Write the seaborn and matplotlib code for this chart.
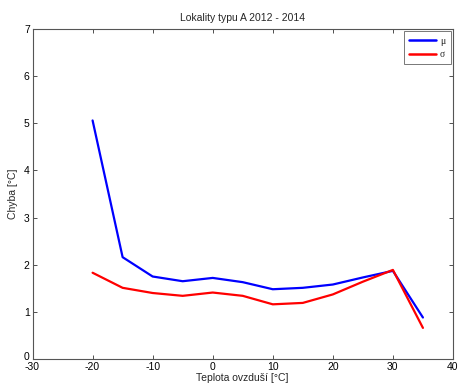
import numpy as np
import pandas as pd
import matplotlib
matplotlib.use("Agg")
import matplotlib.pyplot as plt
import matplotlib.transforms as mtransforms
import seaborn as sns

# Air temperature bins [°C]
teplota = [-20, -15, -10, -5, 0, 5, 10, 15, 20, 25, 30, 35]
# Mean error (mu) and standard deviation (sigma) per bin [°C]
mu = [5.06, 2.16, 1.75, 1.65, 1.72, 1.63, 1.48, 1.51, 1.58, 1.73, 1.87, 0.88]
sigma = [1.83, 1.51, 1.40, 1.34, 1.41, 1.34, 1.16, 1.19, 1.37, 1.64, 1.89, 0.66]
labels = ["\u03bc", "\u03c3"]

title = "Lokality typu A 2012 - 2014"
xlabel = "Teplota ovzduší [°C]"
ylabel = "Chyba [°C]"
xticks = [-30, -20, -10, 0, 10, 20, 30, 40]
yticks = [0, 1, 2, 3, 4, 5, 6, 7]

df = pd.DataFrame({
    "teplota": teplota * 2,
    "chyba": mu + sigma,
    "stat": [labels[0]] * len(mu) + [labels[1]] * len(sigma),
})

sns.set_style("white")
plt.rcParams["font.family"] = ["Liberation Sans", "DejaVu Sans"]
plt.rcParams["font.size"] = 7.5
plt.rcParams["axes.unicode_minus"] = False

fig = plt.figure(figsize=(4.6, 3.85), dpi=100)
ax = fig.add_axes([0.0707, 0.0675, 0.9140, 0.8572])

sns.lineplot(data=df, x="teplota", y="chyba", hue="stat",
             palette={labels[0]: "#0000ff", labels[1]: "#ff0000"},
             linewidth=1.6, ax=ax, legend=True)

ax.set_xlim(-30, 40)
ax.set_ylim(0, 7)
ax.set_xticks(xticks)
ax.set_yticks(yticks)
ax.tick_params(direction="in", length=3, width=0.6, colors="#333333",
               labelcolor="black", labelsize=7.5, top=True, right=True,
               bottom=True, left=True, pad=2)
for sp in ax.spines.values():
    sp.set_visible(True)
    sp.set_color("#555555")
    sp.set_linewidth(0.8)

# lift the lowest y tick label slightly so it clears the -30 below it
lbl0 = ax.get_yticklabels()[0]
lbl0.set_transform(lbl0.get_transform() +
                   mtransforms.ScaledTranslation(0, 2.5 / 72, fig.dpi_scale_trans))

ax.set_title(title, fontsize=7.5, pad=6)
ax.set_xlabel(xlabel, fontsize=7.5, labelpad=1)
ax.set_ylabel(ylabel, fontsize=7.5, labelpad=4)

leg = ax.legend(loc="upper right", frameon=True, fancybox=False,
                borderaxespad=0.25, handlelength=2.7, handletextpad=0.45,
                borderpad=0.55, labelspacing=0.45,
                prop={"family": ["Liberation Serif", "DejaVu Serif"], "size": 7})
leg.get_frame().set_edgecolor("#555555")
leg.get_frame().set_linewidth(0.7)
for line in leg.get_lines():
    line.set_linewidth(1.8)

fig.savefig("out.png", dpi=100)
